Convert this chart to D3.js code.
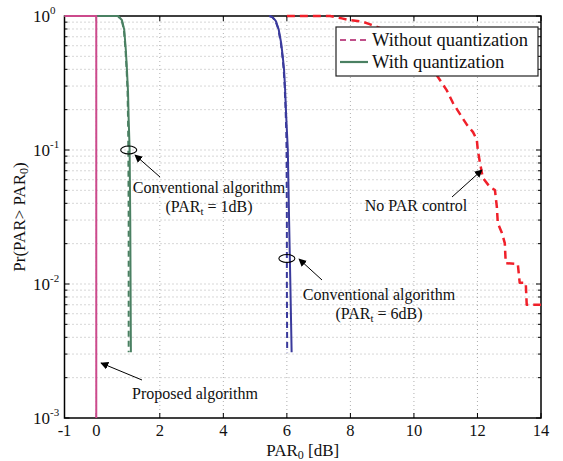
<!DOCTYPE html>
<html>
<head>
<meta charset="utf-8">
<script src="https://cdn.jsdelivr.net/npm/d3@7"></script>
<style>
  body{margin:0;background:#fff;}
  text{font-family:"Liberation Serif","Times New Roman",serif;fill:#111;}
</style>
</head>
<body>
<svg width="563" height="461"></svg>
<script>
// data
var xTicks=[-1,0,2,4,6,8,10,12,14];
var yDecades=[1e-3,1e-2,1e-1,1];
var yTickExp=["-3","-2","-1","0"];

var proposedX=[-1,0,0];
var proposedY=[1,1,0.001];

var curveY=[1,1,0.93,0.79,0.56,0.40,0.27,0.17,0.1,0.03,0.0031];
var green1SolidX=[-1,0.69,0.81,0.88,0.93,0.965,1.0,1.02,1.05,1.07,1.09];
var green1DashX=[-1,0.68,0.80,0.87,0.92,0.955,0.985,1.0,1.01,1.02,1.02];

var blueY=[1,0.98,0.92,0.8,0.63,0.5,0.4,0.3,0.2,0.14,0.1,0.03,0.01,0.0031];
var blue6SolidX=[5.45,5.55,5.65,5.74,5.82,5.87,5.91,5.94,5.97,6.0,6.03,6.07,6.11,6.15];
var blue6DashX=[5.45,5.54,5.64,5.73,5.81,5.86,5.9,5.93,5.96,5.98,5.99,6.0,6.0,6.01];

var noCtrlX=[6.0,7.36,7.73,7.99,8.36,8.6,9.0,9.5,10.0,10.5,10.75,11.03,11.23,11.51,11.67,11.86,11.98,12.01,12.08,12.17,12.39,12.55,12.61,12.64,12.77,12.86,12.89,13.27,13.33,13.52,13.55,14.0];
var noCtrlY=[1,1,0.96,0.93,0.91,0.87,0.8,0.68,0.56,0.44,0.352,0.28,0.224,0.176,0.154,0.136,0.119,0.1,0.08,0.0618,0.053,0.0503,0.0376,0.0285,0.024,0.0202,0.0143,0.0141,0.0102,0.0102,0.007,0.007];

var legendLabels=["Without quantization","With quantization"];

var zip=function(xs,ys){
  return xs.map(function(x,i){return [x,ys[i]];});
};

var svg=d3.select("svg");
var margin={left:64.5,right:22,top:16,bottom:43};
var W=563,H=461;
var x=d3.scaleLinear().domain([-1,14]).range([margin.left,W-margin.right]);
var y=d3.scaleLog().domain([1e-3,1]).range([H-margin.bottom,margin.top]);
var x0=x.range()[0],x1=x.range()[1],y0=y.range()[0],y1=y.range()[1];

// minor values for grid/ticks
var minorY=[];
for(var k=-3;k<0;k++){
  for(var m=2;m<=9;m++) minorY.push(m*Math.pow(10,k));
}

var grid=svg.append("g").attr("id","grid")
  .attr("stroke","#9a9a9a").attr("stroke-width",0.8).attr("stroke-dasharray","1,3");
grid.selectAll("line.vx").data(xTicks.slice(1,-1)).enter().append("line")
  .attr("x1",function(d){return x(d);}).attr("x2",function(d){return x(d);})
  .attr("y1",y0).attr("y2",y1);
grid.selectAll("line.hy").data(minorY.concat(yDecades.slice(1,-1))).enter().append("line")
  .attr("class","hy")
  .attr("x1",x0).attr("x2",x1)
  .attr("y1",function(d){return y(d);}).attr("y2",function(d){return y(d);});

// frame + ticks
var axes=svg.append("g").attr("stroke","#000").attr("stroke-width",1);
axes.append("rect").attr("x",x0).attr("y",y1).attr("width",x1-x0).attr("height",y0-y1)
  .attr("fill","none").attr("stroke-width",1.5);
xTicks.forEach(function(t){
  axes.append("line").attr("x1",x(t)).attr("x2",x(t)).attr("y1",y0).attr("y2",y0-5);
  axes.append("line").attr("x1",x(t)).attr("x2",x(t)).attr("y1",y1).attr("y2",y1+5);
});
yDecades.forEach(function(t){
  axes.append("line").attr("x1",x0).attr("x2",x0+5).attr("y1",y(t)).attr("y2",y(t));
  axes.append("line").attr("x1",x1).attr("x2",x1-5).attr("y1",y(t)).attr("y2",y(t));
});
minorY.forEach(function(t){
  axes.append("line").attr("x1",x0).attr("x2",x0+3).attr("y1",y(t)).attr("y2",y(t));
  axes.append("line").attr("x1",x1).attr("x2",x1-3).attr("y1",y(t)).attr("y2",y(t));
});

// tick labels
svg.append("g").selectAll("text").data(xTicks).enter().append("text")
  .attr("x",function(d){return x(d);}).attr("y",y0+18)
  .attr("text-anchor","middle").attr("font-size",16.5)
  .text(function(d){return d;});
var yl=svg.append("g").selectAll("text").data(yDecades).enter().append("text")
  .attr("x",33).attr("y",function(d){return y(d)+6;}).attr("font-size",17);
yl.append("tspan").text("10");
yl.append("tspan").attr("dy",-8).attr("font-size",11).text(function(d,i){return yTickExp[i];});

// axis titles
var xt=svg.append("text").attr("x",(x0+x1)/2).attr("y",456).attr("text-anchor","middle").attr("font-size",17);
xt.append("tspan").text("PAR");
xt.append("tspan").attr("font-size",12).attr("dy",3).text("0");
xt.append("tspan").attr("dy",-3).text(" [dB]");
var yt=svg.append("text").attr("transform","translate(25,"+((y0+y1)/2)+")rotate(-90)")
  .attr("text-anchor","middle").attr("font-size",17);
yt.append("tspan").text("Pr(PAR> PAR");
yt.append("tspan").attr("font-size",12).attr("dy",3).text("0");
yt.append("tspan").attr("dy",-3).text(")");

// curves
var line=d3.line().x(function(d){return x(d[0]);}).y(function(d){return y(d[1]);});
var plot=svg.append("g").attr("fill","none").attr("stroke-linejoin","round");
plot.append("path").datum(zip(noCtrlX,noCtrlY)).attr("d",line)
  .attr("stroke","#f0202a").attr("stroke-width",2.5).attr("stroke-dasharray","8,5");
plot.append("path").datum(zip(blue6DashX,blueY)).attr("d",line)
  .attr("stroke","#3a3a9c").attr("stroke-width",2).attr("stroke-dasharray","6,4");
plot.append("path").datum(zip(blue6SolidX,blueY)).attr("d",line)
  .attr("stroke","#3a3a9c").attr("stroke-width",2);
plot.append("path").datum(zip(green1DashX,curveY)).attr("d",line)
  .attr("stroke","#4a8062").attr("stroke-width",2).attr("stroke-dasharray","6,4");
plot.append("path").datum(zip(green1SolidX,curveY)).attr("d",line)
  .attr("stroke","#4a8062").attr("stroke-width",2);
plot.append("path").datum(zip(proposedX,proposedY)).attr("d",line)
  .attr("stroke","#cc4a8c").attr("stroke-width",2);

// legend
var lg=svg.append("g");
lg.append("rect").attr("x",336).attr("y",27).attr("width",202).attr("height",49)
  .attr("fill","#fff").attr("stroke","#222").attr("stroke-width",1.2);
lg.append("line").attr("x1",340).attr("x2",368).attr("y1",40).attr("y2",40)
  .attr("stroke","#c0508a").attr("stroke-width",2.2).attr("stroke-dasharray","6,4");
lg.append("line").attr("x1",340).attr("x2",368).attr("y1",62).attr("y2",62)
  .attr("stroke","#4a8062").attr("stroke-width",2.2);
lg.selectAll("text").data(legendLabels).enter().append("text")
  .attr("x",372).attr("y",function(d,i){return 46+i*22;}).attr("font-size",18.5)
  .text(function(d){return d;});

// annotations
var defs=svg.append("defs");
defs.append("marker").attr("id","ah").attr("viewBox","0 0 10 10").attr("refX",9).attr("refY",5)
  .attr("markerWidth",8).attr("markerHeight",8).attr("orient","auto-start-reverse")
  .attr("markerUnits","userSpaceOnUse")
  .append("path").attr("d","M0,0L10,5L0,10z").attr("fill","#000");

var ann=svg.append("g");
var arrow=function(xa,ya,xb,yb){
  ann.append("line").attr("x1",xa).attr("y1",ya).attr("x2",xb).attr("y2",yb)
    .attr("stroke","#000").attr("stroke-width",1).attr("marker-end","url(#ah)");
};
var ring=function(cx,cy){
  ann.append("ellipse").attr("cx",cx).attr("cy",cy).attr("rx",8).attr("ry",4)
    .attr("fill","none").attr("stroke","#000").attr("stroke-width",1.1);
};
// parts: [text, dy, small]
var label=function(tx,ty,lines){
  lines.forEach(function(l,i){
    var t=ann.append("text").attr("x",tx).attr("y",ty+i*19).attr("text-anchor","middle").attr("font-size",16);
    l.forEach(function(p){
      var s=t.append("tspan").text(p[0]);
      if(p[1]) s.attr("dy",p[1]);
      if(p[2]) s.attr("font-size",11);
    });
  });
};

ring(x(1.02),y(0.1));
arrow(160,177,135,155);
label(209,193,[[["Conventional algorithm"]],[["(PAR"],["t",3,1],[" = 1dB)",-3]]]);

ring(x(6.0),y(0.0155));
arrow(322,280,299,259);
label(379,300,[[["Conventional algorithm"]],[["(PAR"],["t",3,1],[" = 6dB)",-3]]]);

arrow(452,197,482,170);
label(416,211,[[["No PAR control"]]]);

arrow(142,380,101,363);
label(195,399,[[["Proposed algorithm"]]]);
</script>
</body>
</html>
